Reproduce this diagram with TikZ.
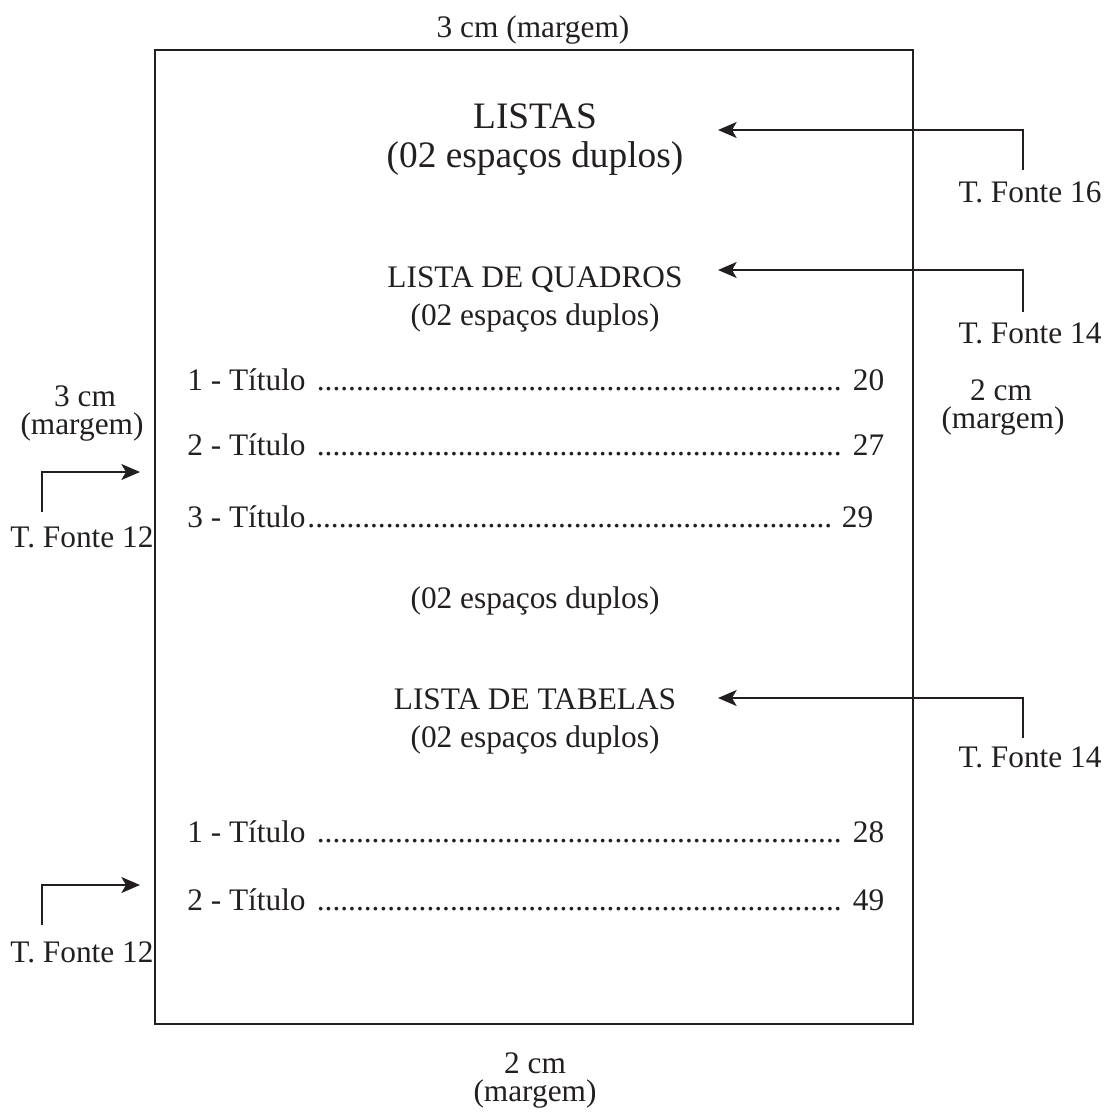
\documentclass[tikz,border=0pt]{standalone}
\usepackage{fontspec}
\setmainfont{Liberation Serif}
\usetikzlibrary{arrows.meta}
\definecolor{preto}{RGB}{35,31,32}
\newcommand{\pontos}{\cleaders\hbox{.}\hfill}
\newcommand{\linhalista}[3]{\hbox to #1{#2\pontos\ #3}}
\begin{document}
\begin{tikzpicture}[x=0.75pt,y=0.75pt,yscale=-1,xscale=1,color=preto,
  seta/.style={line width=1.3pt,-{Stealth[length=14pt,width=12pt,inset=3.5pt]}},
  texto/.style={inner sep=0pt,font=\fontsize{23.5}{27}\selectfont},
  titulo/.style={inner sep=0pt,font=\fontsize{28}{33}\selectfont}]
\useasboundingbox (0,0) rectangle (1110,1113);

%Shape: Rectangle [id:folha]
\draw[line width=1.6pt] (155,50) rectangle (913,1024);

% Text Node
\node[texto] (msup) at (533,30) {3 cm (margem)};
% Text Node
\node[titulo] (listas) at (535,116) {LISTAS};
% Text Node
\node[titulo] (esp1) at (535,159) {(02 espaços duplos)};
% Text Node
\node[texto] (quadros) at (535,280) {LISTA DE QUADROS};
% Text Node
\node[texto] (esp2) at (535,318) {(02 espaços duplos)};
% Text Node
\node[texto,anchor=west] (q1) at (187,380) {\linhalista{522.75pt}{1 - Título }{20}};
% Text Node
\node[texto,anchor=west] (q2) at (187,445) {\linhalista{522.75pt}{2 - Título }{27}};
% Text Node
\node[texto,anchor=west] (q3) at (187,517) {\linhalista{514.5pt}{3 - Título}{29}};
% Text Node
\node[texto] (esp3) at (535,601) {(02 espaços duplos)};
% Text Node
\node[texto] (tabelas) at (535,699) {LISTA DE TABELAS};
% Text Node
\node[texto] (esp4) at (535,740) {(02 espaços duplos)};
% Text Node
\node[texto,anchor=west] (t1) at (187,832) {\linhalista{522.75pt}{1 - Título }{28}};
% Text Node
\node[texto,anchor=west] (t2) at (187,900) {\linhalista{522.75pt}{2 - Título }{49}};

% Text Node
\node[texto] (mesq1) at (85,396) {3 cm};
% Text Node
\node[texto] (mesq2) at (82,427) {(margem)};
% Text Node
\node[texto] (mdir1) at (1001,390) {2 cm};
% Text Node
\node[texto] (mdir2) at (1003,421) {(margem)};
% Text Node
\node[texto] (minf1) at (535,1063) {2 cm};
% Text Node
\node[texto] (minf2) at (535,1094) {(margem)};

% Text Node
\node[texto] (f16) at (1030,192) {T. Fonte 16};
% Text Node
\node[texto] (f14a) at (1030,333) {T. Fonte 14};
% Text Node
\node[texto] (f14b) at (1030,757) {T. Fonte 14};
% Text Node
\node[texto] (f12a) at (82,537) {T. Fonte 12};
% Text Node
\node[texto] (f12b) at (82,952) {T. Fonte 12};

%Straight Lines [id:setas]
\coordinate (b16) at (1023,170);
\coordinate (p16) at (718,130);
\coordinate (b14a) at (1023,312);
\coordinate (p14a) at (718,270);
\coordinate (b14b) at (1023,738);
\coordinate (p14b) at (718,698);
\coordinate (b12a) at (42,512);
\coordinate (p12a) at (140,472);
\coordinate (b12b) at (42,925);
\coordinate (p12b) at (140,885);
\draw[seta] (b16) |- (p16);
\draw[seta] (b14a) |- (p14a);
\draw[seta] (b14b) |- (p14b);
\draw[seta] (b12a) |- (p12a);
\draw[seta] (b12b) |- (p12b);

\end{tikzpicture}
\end{document}
